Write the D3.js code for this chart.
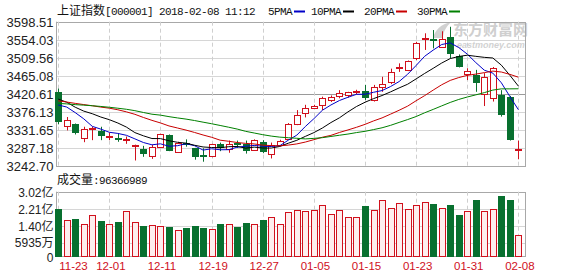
<!DOCTYPE html>
<html><head><meta charset="utf-8">
<script src="https://cdn.jsdelivr.net/npm/d3@7/dist/d3.min.js"></script>
<style>body{margin:0;background:#fff}svg{display:block}</style>
</head><body><svg id="c" width="578" height="276"></svg>
<script>
// ---------- data ----------
const dates = ["11-23","11-24","11-27","11-28","11-29","11-30","12-01","12-04","12-05","12-06","12-07","12-08",
"12-11","12-12","12-13","12-14","12-15","12-18","12-19","12-20","12-21","12-22","12-25","12-26","12-27","12-28","12-29",
"01-02","01-03","01-04","01-05","01-08","01-09","01-10","01-11","01-12","01-15","01-16","01-17","01-18","01-19",
"01-22","01-23","01-24","01-25","01-26","01-29","01-30","01-31","02-01","02-02","02-05","02-06","02-07","02-08"];
const open  = [3426,3343,3346,3313,3336,3330,3316,3313,3309,3292,3285,3268,3291,3320,3280,3301,3287,3271,3268,3298,3285,3300,3297,3283,3303,3272,3295,
3312,3347,3373,3387,3394,3406,3416,3418,3424,3428,3404,3437,3451,3485,3480,3507,3555,3556,3538,3562,3515,3469,3467,3422,3412,3418,3414,3283];
const high  = [3434,3364,3348,3340,3340,3340,3326,3323,3316,3296,3293,3295,3323,3321,3303,3309,3288,3287,3298,3301,3306,3306,3306,3309,3307,3301,3308,
3349,3381,3394,3394,3414,3417,3430,3426,3431,3443,3443,3463,3483,3496,3503,3549,3570,3578,3575,3586,3518,3484,3480,3472,3487,3430,3416,3306];
const low   = [3346,3331,3321,3302,3307,3307,3307,3303,3298,3257,3266,3261,3289,3280,3276,3291,3259,3254,3265,3280,3276,3288,3274,3281,3275,3262,3292,
3311,3344,3363,3384,3381,3401,3410,3412,3420,3406,3402,3426,3445,3475,3477,3504,3529,3533,3534,3509,3486,3455,3426,3391,3402,3365,3306,3260];
const close = [3352,3357,3324,3334,3338,3318,3318,3310,3311,3294,3273,3290,3322,3281,3301,3297,3266,3268,3297,3289,3298,3297,3279,3307,3279,3295,3306,
3348,3369,3385,3391,3410,3413,3424,3425,3427,3411,3437,3445,3475,3488,3501,3545,3558,3551,3557,3521,3488,3477,3447,3463,3485,3369,3308,3285];
// volume in 亿 (100 million)
const volume = [2.21,1.69,1.74,1.49,1.92,1.64,1.49,1.60,2.11,1.58,1.41,1.46,1.39,1.36,1.22,1.31,1.41,1.31,1.27,1.50,1.50,1.36,1.55,1.50,1.70,1.83,1.50,
2.07,2.16,2.11,2.16,2.38,1.96,2.16,1.82,1.82,2.35,2.16,2.61,2.24,2.47,2.19,2.38,2.52,2.44,2.24,2.39,1.92,2.11,2.63,2.11,2.21,2.82,2.63,0.9637];
// closes of the 29 sessions before the first bar (needed for the moving averages)
const prevCloses = [3390.52,3378.47,3372.04,3381.79,3370.17,3378.65,3380.70,3388.25,3396.90,3407.57,3416.81,3390.34,3393.34,3395.91,3383.31,
3371.74,3388.17,3413.57,3415.46,3427.79,3432.67,3447.84,3429.55,3402.52,3399.25,3382.91,3392.40,3410.50,3430.46];
const priceTicks = [3598.51,3554.03,3509.56,3465.08,3420.61,3376.13,3331.65,3287.18,3242.70];
const volTicks = [3.02,2.21,1.40,0.5935,0];
const volTickLabels = ["3.02亿","2.21亿","1.40亿","5935万","0"];
const dateTicks = ["11-23","12-01","12-11","12-19","12-27","01-05","01-15","01-23","01-31","02-08"];
const maPeriods = [5,10,20,30];
const maNames = ["5PMA","10PMA","20PMA","30PMA"];
const maColors = ["#0000c8","#000000","#c80000","#008000"];
const titleName = "上证指数";
const titleCode = "[000001] 2018-02-08 11:12";
const volLabel = "成交量";
const volNow = "96366989";

// ---------- layout ----------
const svg = d3.select("#c");
const L = 56, R = 525.5;
const pTop = 21.7, pBot = 166.3, vTop = 191.7, vBot = 256;
const RED = "#d0101c", GREEN = "#08702f";
const MONO = "'Liberation Mono','DejaVu Sans Mono',monospace";
const CJK = "'Noto Sans CJK SC','Noto Sans',sans-serif";
const SANS = "'Liberation Sans',Arial,sans-serif";

const x = d3.scalePoint().domain(dates).range([58.2, 518.4]);
const y = d3.scaleLinear().domain([3242.70, 3598.51]).range([pBot, pTop]);
const yv = d3.scaleLinear().domain([0, 3.02]).range([vBot, vTop]);
const px = d => Math.round(x(d));

// watermark (behind everything)
const wm = svg.append("g").attr("opacity", 0.6);
wm.append("path").attr("d", "M433,38 C435,30 441,24 451,22 C446,27 443,32 443,38 Z").attr("fill", "#b4b4b4");
wm.append("text").attr("x", 453).attr("y", 35).attr("font-family", CJK).attr("font-weight", "bold")
  .attr("font-size", 15).attr("fill", "#b0b0b0").text("东方财富网");
wm.append("text").attr("x", 457).attr("y", 48).attr("font-family", SANS).attr("font-weight", "bold").attr("font-style", "italic")
  .attr("font-size", 9).attr("fill", "#b4b4b4").text("eastmoney.com");

// grids
const g = svg.append("g");
priceTicks.forEach((t,i) => {
  const yy = Math.round(y(t)) + 0.5;
  g.append("line").attr("x1", L).attr("x2", R).attr("y1", yy).attr("y2", yy)
    .attr("stroke", (t===3420.61) ? "#9a9a9a" : (i===0||i===priceTicks.length-1 ? "#a8a8a8" : "#d6d6d6")).attr("stroke-width", 1);
});
volTicks.forEach((t,i) => {
  const yy = Math.round(yv(t)) + 0.5;
  g.append("line").attr("x1", L).attr("x2", R).attr("y1", yy).attr("y2", yy)
    .attr("stroke", (i===0||i===volTicks.length-1) ? "#a8a8a8" : "#d6d6d6").attr("stroke-width", 1);
});
dateTicks.forEach(d => {
  const xx = px(d) + 0.5;
  [[pTop, pBot],[vTop, vBot]].forEach(([a,b]) => {
    g.append("line").attr("x1", xx).attr("x2", xx).attr("y1", a).attr("y2", b)
      .attr("stroke", "#cfcfcf").attr("stroke-dasharray", "4,3");
  });
});
[[pTop,pBot],[vTop,vBot]].forEach(([a,b]) => {
  g.append("line").attr("x1", R).attr("x2", R).attr("y1", Math.round(a)).attr("y2", Math.round(b)+1).attr("stroke","#a8a8a8");
});

// axes
const ya = svg.append("g").attr("transform", `translate(${L+0.5},0)`)
  .call(d3.axisLeft(y).tickValues(priceTicks).tickSize(0).tickPadding(3).tickFormat(d3.format(".2f")));
const va = svg.append("g").attr("transform", `translate(${L+0.5},0)`)
  .call(d3.axisLeft(yv).tickValues(volTicks).tickSize(0).tickPadding(3).tickFormat((d,i)=>volTickLabels[i]));
ya.select(".domain").attr("stroke", "#a8a8a8").attr("d", `M0,${pTop}V${pBot+0.5}`);
va.select(".domain").attr("stroke", "#a8a8a8").attr("d", `M0,${vTop}V${vBot+0.5}`);
ya.selectAll("text").attr("font-family", SANS).attr("font-size", 13).attr("fill", "#222").attr("dy", "0.36em");
va.selectAll("text").attr("font-family", SANS + "," + CJK).attr("font-size", 12).attr("fill", "#222").attr("dy", "0.36em");
va.selectAll(".tick").filter(d => d === 0.5935).select("text").attr("dy", "0.26em");
va.selectAll(".tick").filter(d => d === 0).select("text").attr("dy", "0.44em");

const xa = svg.append("g").attr("transform", `translate(1,${vBot+1})`)
  .call(d3.axisBottom(x).tickValues(dateTicks).tickSize(0).tickPadding(5));
xa.select(".domain").remove();
xa.selectAll("text").attr("font-family", SANS).attr("font-size", 11.5).attr("fill", RED);
xa.selectAll(".tick").filter(d => d === dateTicks[0]).select("text").attr("text-anchor", "start").attr("x", -0.5);

// moving averages (from closes)
const allClose = prevCloses.concat(close);
const off = prevCloses.length;
const ma = n => close.map((_, i) => d3.mean(allClose.slice(i + off - n + 1, i + off + 1)));
const line = d3.line().x((d,i) => x(dates[i])).y(d => y(d));

// candles
const cg = svg.append("g");
dates.forEach((d,i) => {
  const cx = px(d);
  const up = close[i] >= open[i];
  const col = up ? RED : GREEN;
  cg.append("line").attr("x1", cx+0.5).attr("x2", cx+0.5).attr("y1", y(high[i])).attr("y2", y(low[i]))
    .attr("stroke", col).attr("stroke-width", 1);
  const top = y(Math.max(open[i], close[i])), bot = y(Math.min(open[i], close[i]));
  const h = Math.max(1, bot - top);
  if (up) {
    if (h <= 1.5) {
      cg.append("rect").attr("x", cx-3).attr("y", Math.round(top)).attr("width", 7).attr("height", 2).attr("fill", col);
    } else {
      cg.append("rect").attr("x", cx-2.5).attr("y", Math.round(top)+0.5).attr("width", 6).attr("height", Math.round(h))
        .attr("fill", "#fff").attr("stroke", col).attr("stroke-width", 1);
    }
  } else {
    cg.append("rect").attr("x", cx-3).attr("y", Math.round(top)).attr("width", 7).attr("height", Math.max(2, Math.round(h))).attr("fill", col);
  }
});
maPeriods.forEach((n,k) => {
  svg.append("path").attr("d", line(ma(n))).attr("fill", "none").attr("stroke", maColors[k]).attr("stroke-width", 1);
});

// volume bars
const vg = svg.append("g");
dates.forEach((d,i) => {
  const cx = px(d);
  const up = close[i] >= open[i];
  const t = Math.round(yv(volume[i]));
  if (up) {
    vg.append("rect").attr("x", cx-2.5).attr("y", t+0.5).attr("width", 6).attr("height", vBot - t)
      .attr("fill", "#fdeeee").attr("stroke", RED).attr("stroke-width", 1);
  } else {
    vg.append("rect").attr("x", cx-3).attr("y", t).attr("width", 7).attr("height", vBot - t + 1).attr("fill", GREEN);
  }
});

// title + legend
const tt = svg.append("text").attr("x", 57).attr("y", 15).attr("fill", "#111");
tt.append("tspan").attr("font-family", CJK).attr("font-size", 12).text(titleName);
tt.append("tspan").attr("font-family", MONO).attr("font-size", 11).attr("letter-spacing", "-0.6").text(titleCode);
const legX = [268, 311, 364, 417];
maNames.forEach((nm,k) => {
  svg.append("text").attr("x", legX[k]).attr("y", 15).attr("font-family", MONO).attr("font-size", 11)
    .attr("letter-spacing", "-0.6").attr("fill", "#111").text(nm);
  const lx = legX[k] + nm.length * 6 + 2;
  svg.append("line").attr("x1", lx).attr("x2", lx + 11).attr("y1", 11.5).attr("y2", 11.5)
    .attr("stroke", maColors[k]).attr("stroke-width", 2);
});
const vt = svg.append("text").attr("x", 57).attr("y", 184).attr("fill", "#111");
vt.append("tspan").attr("font-family", CJK).attr("font-size", 12).text(volLabel);
vt.append("tspan").attr("font-family", MONO).attr("font-size", 11).attr("letter-spacing", "-0.6").text(":" + volNow);
</script></body></html>
